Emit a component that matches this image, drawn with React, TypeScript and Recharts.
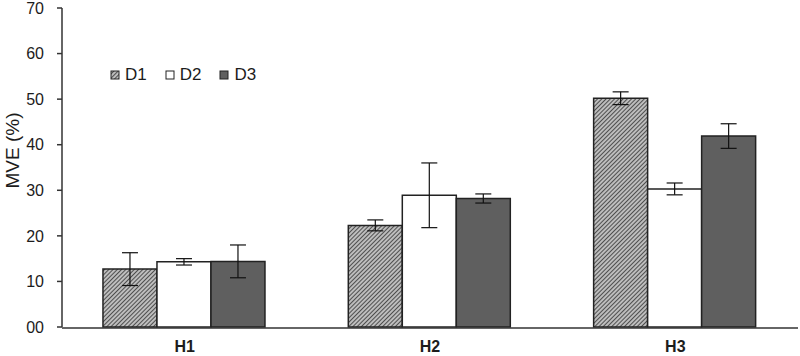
import React from 'react';
import { BarChart, Bar, XAxis, YAxis, ErrorBar, Legend } from 'recharts';

// MVE (%) per hospital / dataset
const hospitals = ['H1', 'H2', 'H3'];
const seriesNames = ['D1', 'D2', 'D3'];

const d1Values = [12.7, 22.3, 50.2];
const d1Errors = [3.6, 1.2, 1.4];
const d2Values = [14.3, 28.9, 30.3];
const d2Errors = [0.7, 7.1, 1.3];
const d3Values = [14.4, 28.2, 41.9];
const d3Errors = [3.6, 1.0, 2.7];

const yTicks = [0, 10, 20, 30, 40, 50, 60, 70];
const groupEdges = [0, 1, 2, 3];

const rows = hospitals.map((h, i) => ({
    name: h,
    D1: d1Values[i],
    D1err: d1Errors[i],
    D2: d2Values[i],
    D2err: d2Errors[i],
    D3: d3Values[i],
    D3err: d3Errors[i],
}));

const FONT = '"Liberation Sans", Arial, sans-serif';
const INK = '#1c1c1c';

const fills: Record<string, string> = {
    D1: 'url(#hatchD1)',
    D2: '#ffffff',
    D3: '#5f5f5f',
};

function Hatch({ id }: { id: string }) {
    return (
        <pattern id={id} width={3} height={3} patternUnits="userSpaceOnUse" patternTransform="rotate(45)">
            <rect width={3} height={3} fill="#bdbdbd" />
            <line x1={0} y1={0} x2={0} y2={3} stroke="#333" strokeWidth={1.6} />
        </pattern>
    );
}

function LegendBox() {
    return (
        <div style={{ display: 'flex', alignItems: 'center', fontFamily: FONT, fontSize: 17, color: INK }}>
            {seriesNames.map((s) => (
                <div key={s} style={{ display: 'flex', alignItems: 'center', marginRight: 18 }}>
                    <svg width={10} height={10} style={{ marginRight: 5 }}>
                        <defs>
                            <Hatch id="legHatch" />
                        </defs>
                        <rect
                            x={1}
                            y={1}
                            width={8}
                            height={8}
                            fill={s === 'D1' ? 'url(#legHatch)' : fills[s]}
                            stroke="#222"
                            strokeWidth={1}
                        />
                    </svg>
                    <span>{s}</span>
                </div>
            ))}
        </div>
    );
}

export default function App() {
    return (
        <div style={{ position: 'absolute', left: 0, top: 0, width: 800, height: 356, background: '#fff' }}>
            <BarChart
                width={800}
                height={356}
                data={rows}
                margin={{ top: 8, right: 2, bottom: 27, left: 0 }}
                barCategoryGap="16.7%"
                barGap={0}
            >
                <defs>
                    <Hatch id="hatchD1" />
                </defs>
                {/* hospital names; kept thin so the boundary axis sits on the plot edge */}
                <XAxis
                    dataKey="name"
                    height={1}
                    axisLine={false}
                    tickLine={false}
                    tick={{ fill: INK, fontSize: 16, fontWeight: 'bold', fontFamily: FONT }}
                    tickMargin={8}
                />
                {/* boundary ticks between hospital groups */}
                <XAxis
                    xAxisId="edges"
                    type="number"
                    domain={[0, 3]}
                    ticks={groupEdges}
                    height={1}
                    axisLine={{ stroke: '#333', strokeWidth: 1.5 }}
                    tickLine={{ stroke: '#333', strokeWidth: 1.5 }}
                    tickSize={5}
                    tick={false}
                />
                <YAxis
                    width={62}
                    domain={[0, 70]}
                    ticks={yTicks}
                    interval={0}
                    tickFormatter={(v: number) => (v === 0 ? '00' : String(v))}
                    axisLine={{ stroke: '#333', strokeWidth: 1.5 }}
                    tickLine={{ stroke: '#333', strokeWidth: 1.5 }}
                    tickSize={5}
                    tickMargin={13}
                    tick={{ fill: INK, fontSize: 16, fontFamily: FONT }}
                    label={{
                        content: ({ viewBox }: any) => {
                            const cx = viewBox.x + 19;
                            const cy = viewBox.y + viewBox.height / 2 - 17;
                            return (
                                <text
                                    x={cx}
                                    y={cy}
                                    transform={`rotate(-90, ${cx}, ${cy})`}
                                    textAnchor="middle"
                                    fill={INK}
                                    fontSize={19}
                                    fontFamily={FONT}
                                >
                                    MVE (%)
                                </text>
                            );
                        },
                    }}
                />
                {/* middle alignment so the legend takes no room from the plot */}
                <Legend
                    layout="horizontal"
                    verticalAlign="middle"
                    align="center"
                    wrapperStyle={{ top: 65, left: 110, width: 'auto' }}
                    content={() => <LegendBox />}
                />
                {seriesNames.map((s) => (
                    <Bar
                        key={s}
                        dataKey={s}
                        fill={fills[s]}
                        stroke="#222"
                        strokeWidth={1.5}
                        isAnimationActive={false}
                    >
                        <ErrorBar dataKey={`${s}err`} width={8} stroke="#111" strokeWidth={1.2} direction="y" />
                    </Bar>
                ))}
            </BarChart>
        </div>
    );
}
